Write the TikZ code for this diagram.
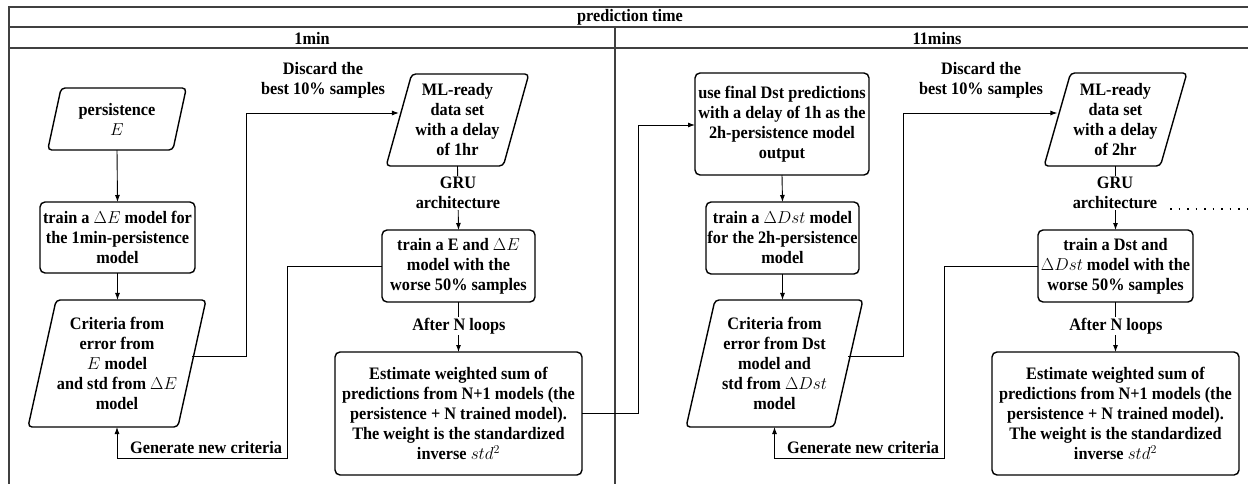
\documentclass[tikz,border=0pt]{standalone}
\usepackage{fontspec}
\setmainfont{Liberation Serif}[FakeStretch=0.93]
\usetikzlibrary{shapes.geometric,arrows.meta,calc}
\newcommand\diagfont{\fontsize{17.5}{20}\selectfont\bfseries}
\tikzset{
  box/.style={draw, line width=1.4pt, rounded corners=5pt, align=center, inner sep=0pt, outer sep=0pt, font=\diagfont},
  para/.style={trapezium, trapezium left angle=#1, trapezium right angle={180-#1}, trapezium stretches=true, draw, line width=1.4pt, rounded corners=4pt, align=center, inner sep=0pt, outer sep=0pt, font=\diagfont},
  lbl/.style={align=center, inner sep=1pt, font=\diagfont, fill=white},
  hdr/.style={anchor=base, inner sep=0pt, font=\diagfont},
  conn/.style={line width=0.9pt},
  arr/.style={conn, -{Latex[length=7pt,width=5pt]}},
  frameline/.style={line width=1.2pt, draw=black!75},
}
\begin{document}
\begin{tikzpicture}[x=1pt,y=-1pt]
\useasboundingbox (0,0) rectangle (1248,484);
% frame
\draw[frameline] (9,484) -- (9,7) -- (1248,7);
\draw[frameline] (9,27) -- (1248,27);
\draw[frameline] (9,48) -- (1248,48);
\draw[frameline] (615,27) -- (615,484);
\node[hdr] (ptime) at (630,22) {prediction time};
\node[hdr] (lane1) at (312,45) {1min};
\node[hdr] (lane2) at (937,45) {11mins};
% lane 1
\node[para=74, minimum width=140pt, minimum height=62pt] (pers) at (117,119) {persistence\\$E$};
\node[box, minimum width=155pt, minimum height=71pt] (trainDE) at (117.5,237.5) {train a $\Delta E$ model for\\the 1min-persistence\\model};
\node[para=73.3, minimum width=178pt, minimum height=127pt] (crit1) at (117,363.5) {Criteria from\\error from\\$E$ model\\and std from $\Delta E$\\model};
\node[para=72, minimum width=143pt, minimum height=92pt] (ml1) at (457.5,120) {ML-ready\\data set\\with a delay\\of 1hr};
\node[box, minimum width=153pt, minimum height=72pt] (trainE) at (458.5,266) {train a E and $\Delta E$\\model with the\\worse 50\% samples};
\node[box, minimum width=247pt, minimum height=123pt] (est1) at (458.5,413.5) {Estimate weighted sum of\\predictions from N+1 models (the\\persistence + N trained model).\\The weight is the standardized\\inverse $std^2$};
% lane 2
\node[box, minimum width=174pt, minimum height=102pt] (use) at (782,124) {use final Dst predictions\\with a delay of 1h as the\\2h-persistence model\\output};
\node[box, minimum width=153pt, minimum height=72pt] (trainDDst) at (782.5,238) {train a $\Delta Dst$ model\\for the 2h-persistence\\model};
\node[para=74.6, minimum width=177pt, minimum height=127pt] (crit2) at (774.5,363.5) {Criteria from\\error from Dst\\model and\\std from $\Delta Dst$\\model};
\node[para=71, minimum width=143pt, minimum height=93pt] (ml2) at (1115.5,119.5) {ML-ready\\data set\\with a delay\\of 2hr};
\node[box, minimum width=155pt, minimum height=72pt] (trainDst) at (1115.5,266) {train a Dst and\\$\Delta Dst$ model with the\\worse 50\% samples};
\node[box, minimum width=247pt, minimum height=123pt] (est2) at (1115.5,413.5) {Estimate weighted sum of\\predictions from N+1 models (the\\persistence + N trained model).\\The weight is the standardized\\inverse $std^2$};
% coordinates
\coordinate (k1) at (246,356);
\coordinate (k2) at (246,113);
\coordinate (g1) at (287,458);
\coordinate (e1) at (638,125);
\coordinate (k3) at (903,356);
\coordinate (k4) at (903,113);
\coordinate (g2) at (944,458);
\coordinate (d1) at (1170,209);
\coordinate (d2) at (1247,209);
% connectors lane 1
\draw[arr] (pers.south) -- (trainDE.north);
\draw[arr] (trainDE.south) -- (trainDE.south |- crit1.north);
\draw[conn] (crit1.east |- k1) -- (k1) -- (k2);
\draw[arr] (k2) -- (ml1.west |- k2);
\draw[arr] (ml1.south) -- (trainE.north);
\draw[arr] (trainE.south) -- (est1.north);
\draw[arr] (trainE.west) -| (g1) -| (crit1.south);
\draw[arr] (est1.east) -| (e1) -- (use.west |- e1);
% connectors lane 2
\draw[arr] (use.south) -- (trainDDst.north);
\draw[arr] (trainDDst.south) -- (trainDDst.south |- crit2.north);
\draw[conn] (crit2.east |- k3) -- (k3) -- (k4);
\draw[arr] (k4) -- (ml2.west |- k4);
\draw[arr] (ml2.south) -- (trainDst.north);
\draw[arr] (trainDst.south) -- (est2.north);
\draw[arr] (trainDst.west) -| (g2) -| (crit2.south);
\draw[line width=1.3pt, dash pattern=on 1.5pt off 7pt] (d1) -- (d2);
% labels
\node[lbl] (disc1) at (323,80) {Discard the\\best 10\% samples};
\node[lbl] (gru1) at (458,193) {GRU\\architecture};
\node[lbl] (loop1) at (459,326) {After N loops};
\node[hdr, anchor=base west] (gen1) at (130,453) {Generate new criteria};
\node[lbl] (disc2) at (981,80) {Discard the\\best 10\% samples};
\node[lbl] (gru2) at (1115,193) {GRU\\architecture};
\node[lbl] (loop2) at (1116,326) {After N loops};
\node[hdr, anchor=base west] (gen2) at (787,453) {Generate new criteria};
\end{tikzpicture}
\end{document}
